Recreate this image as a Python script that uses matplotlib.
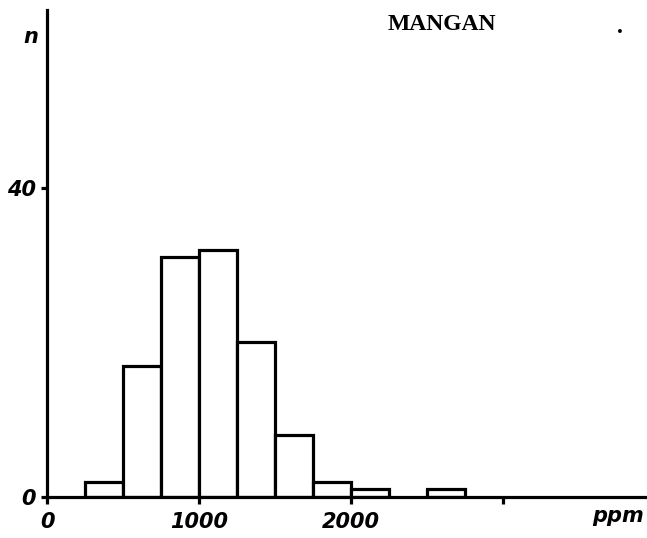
import matplotlib
matplotlib.use('Agg')
import matplotlib.pyplot as plt

# histogram of manganese content (ppm), bins of 250 ppm
bin_left = [250, 500, 750, 1000, 1250, 1500, 1750, 2000, 2250, 2500]
counts = [2, 17, 31, 32, 20, 8, 2, 1, 0, 1]
bin_width = 250

x_ticks = [0, 1000, 2000, 3000]
x_tick_labels = ['0', '1000', '2000', '']
y_ticks = [0, 40]
y_tick_labels = ['0', '40']

fig = plt.figure(figsize=(6.47, 5.38), dpi=100)
ax = fig.add_axes([0.0727, 0.0762, 0.924, 0.905])

lw = 2.3
for left, c in zip(bin_left, counts):
    if c == 0:
        continue
    ax.bar(left, c, width=bin_width, align='edge',
           facecolor='white', edgecolor='black', linewidth=lw, zorder=2)

ax.set_xlim(0, 3935)
ax.set_ylim(0, 63)

for s in ['top', 'right']:
    ax.spines[s].set_visible(False)
for s in ['left', 'bottom']:
    ax.spines[s].set_linewidth(lw)
    ax.spines[s].set_zorder(3)

tick_font = dict(family='DejaVu Sans', weight='bold', style='italic', size=15)
ax.set_xticks(x_ticks)
ax.set_xticklabels(x_tick_labels, fontdict=tick_font)
ax.set_yticks(y_ticks)
ax.set_yticklabels(y_tick_labels, fontdict=tick_font)
ax.tick_params(axis='x', length=5, width=lw, pad=6)
ax.tick_params(axis='y', length=4, width=lw, pad=4)

ax.text(-0.027, 0.945, 'n', transform=ax.transAxes, ha='center', va='center',
        **tick_font)
ax.text(0.998, -0.038, 'ppm', transform=ax.transAxes, ha='right', va='center',
        **tick_font)
ax.text(0.66, 0.971, 'MANGAN', transform=ax.transAxes, ha='center', va='center',
        family='Liberation Serif', weight='bold', size=17)
ax.text(0.958, 0.965, '.', transform=ax.transAxes, ha='center', va='center',
        family='Liberation Serif', weight='bold', size=17)

fig.savefig('out.png', dpi=100)
